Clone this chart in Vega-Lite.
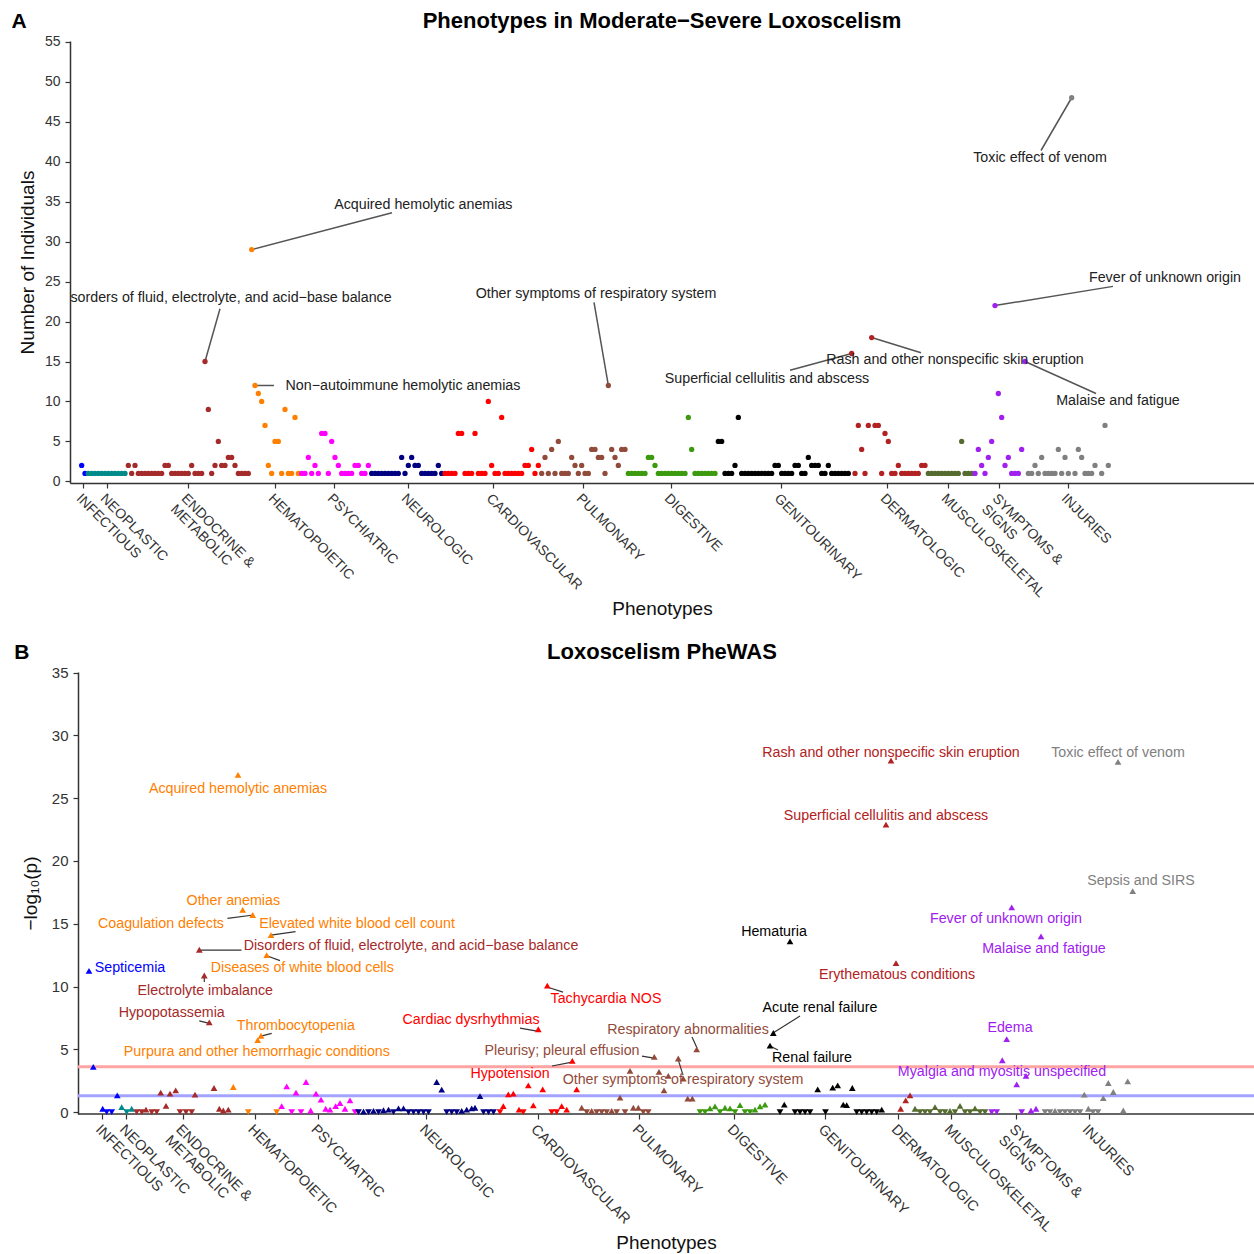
{
"$schema": "https://vega.github.io/schema/vega-lite/v6.json",
"padding": {"left": 11, "top": 9, "right": 0, "bottom": 0},
"config": {
 "font": "Liberation Sans",
 "view": {"stroke": null},
 "axis": {"grid": false, "domainColor": "#333", "domainWidth": 1.5, "tickColor": "#333", "tickWidth": 1.2, "tickSize": 5, "labelColor": "#333", "labelFont": "Liberation Sans", "titleFont": "Liberation Sans", "titleFontWeight": "normal", "titleColor": "#111", "titleFontSize": 19, "labelOverlap": false, "labelFlush": false}
},
"datasets": {
 "a": [
{"i":3,"n":2,"c":"INF"},{"i":4,"n":1,"c":"INF"},
{"i":5,"n":1,"c":"NEO"},{"i":6,"n":1,"c":"NEO"},{"i":7,"n":1,"c":"NEO"},{"i":8,"n":1,"c":"NEO"},{"i":9,"n":1,"c":"NEO"},{"i":10,"n":1,"c":"NEO"},{"i":11,"n":1,"c":"NEO"},{"i":12,"n":1,"c":"NEO"},{"i":13,"n":1,"c":"NEO"},{"i":14,"n":1,"c":"NEO"},{"i":15,"n":1,"c":"NEO"},{"i":16,"n":1,"c":"NEO"},
{"i":17,"n":2,"c":"END"},{"i":18,"n":1,"c":"END"},{"i":19,"n":2,"c":"END"},{"i":20,"n":1,"c":"END"},{"i":21,"n":1,"c":"END"},{"i":22,"n":1,"c":"END"},{"i":23,"n":1,"c":"END"},{"i":24,"n":1,"c":"END"},{"i":25,"n":1,"c":"END"},{"i":26,"n":1,"c":"END"},{"i":27,"n":1,"c":"END"},{"i":28,"n":2,"c":"END"},{"i":29,"n":2,"c":"END"},{"i":30,"n":1,"c":"END"},{"i":31,"n":1,"c":"END"},{"i":32,"n":1,"c":"END"},{"i":33,"n":1,"c":"END"},{"i":34,"n":1,"c":"END"},{"i":35,"n":1,"c":"END"},{"i":36,"n":2,"c":"END"},{"i":37,"n":1,"c":"END"},{"i":38,"n":1,"c":"END"},{"i":39,"n":1,"c":"END"},{"i":40,"n":15,"c":"END"},{"i":41,"n":9,"c":"END"},{"i":42,"n":1,"c":"END"},{"i":43,"n":2,"c":"END"},{"i":44,"n":5,"c":"END"},{"i":45,"n":2,"c":"END"},{"i":46,"n":2,"c":"END"},{"i":47,"n":3,"c":"END"},{"i":48,"n":3,"c":"END"},{"i":49,"n":2,"c":"END"},{"i":50,"n":1,"c":"END"},{"i":51,"n":1,"c":"END"},{"i":52,"n":1,"c":"END"},{"i":53,"n":1,"c":"END"},
{"i":54,"n":29,"c":"HEM"},{"i":55,"n":12,"c":"HEM"},{"i":56,"n":11,"c":"HEM"},{"i":57,"n":10,"c":"HEM"},{"i":58,"n":7,"c":"HEM"},{"i":59,"n":2,"c":"HEM"},{"i":60,"n":1,"c":"HEM"},{"i":61,"n":5,"c":"HEM"},{"i":62,"n":5,"c":"HEM"},{"i":63,"n":1,"c":"HEM"},{"i":64,"n":9,"c":"HEM"},{"i":65,"n":1,"c":"HEM"},{"i":66,"n":1,"c":"HEM"},{"i":67,"n":8,"c":"HEM"},{"i":68,"n":1,"c":"HEM"},
{"i":69,"n":1,"c":"PSY"},{"i":70,"n":1,"c":"PSY"},{"i":71,"n":3,"c":"PSY"},{"i":72,"n":1,"c":"PSY"},{"i":73,"n":2,"c":"PSY"},{"i":74,"n":1,"c":"PSY"},{"i":75,"n":6,"c":"PSY"},{"i":76,"n":6,"c":"PSY"},{"i":77,"n":1,"c":"PSY"},{"i":78,"n":5,"c":"PSY"},{"i":79,"n":3,"c":"PSY"},{"i":80,"n":2,"c":"PSY"},{"i":81,"n":1,"c":"PSY"},{"i":82,"n":1,"c":"PSY"},{"i":83,"n":1,"c":"PSY"},{"i":84,"n":1,"c":"PSY"},{"i":85,"n":2,"c":"PSY"},{"i":86,"n":2,"c":"PSY"},{"i":87,"n":1,"c":"PSY"},{"i":88,"n":1,"c":"PSY"},{"i":89,"n":2,"c":"PSY"},
{"i":90,"n":1,"c":"NEU"},{"i":91,"n":1,"c":"NEU"},{"i":92,"n":1,"c":"NEU"},{"i":93,"n":1,"c":"NEU"},{"i":94,"n":1,"c":"NEU"},{"i":95,"n":1,"c":"NEU"},{"i":96,"n":1,"c":"NEU"},{"i":97,"n":1,"c":"NEU"},{"i":98,"n":1,"c":"NEU"},{"i":99,"n":3,"c":"NEU"},{"i":100,"n":1,"c":"NEU"},{"i":101,"n":2,"c":"NEU"},{"i":102,"n":3,"c":"NEU"},{"i":103,"n":2,"c":"NEU"},{"i":104,"n":2,"c":"NEU"},{"i":105,"n":1,"c":"NEU"},{"i":106,"n":1,"c":"NEU"},{"i":107,"n":1,"c":"NEU"},{"i":108,"n":1,"c":"NEU"},{"i":109,"n":1,"c":"NEU"},{"i":110,"n":2,"c":"NEU"},{"i":111,"n":1,"c":"NEU"},
{"i":112,"n":1,"c":"CAR"},{"i":113,"n":1,"c":"CAR"},{"i":114,"n":1,"c":"CAR"},{"i":115,"n":1,"c":"CAR"},{"i":116,"n":6,"c":"CAR"},{"i":117,"n":6,"c":"CAR"},{"i":118,"n":1,"c":"CAR"},{"i":119,"n":1,"c":"CAR"},{"i":120,"n":1,"c":"CAR"},{"i":121,"n":6,"c":"CAR"},{"i":122,"n":1,"c":"CAR"},{"i":123,"n":1,"c":"CAR"},{"i":124,"n":1,"c":"CAR"},{"i":125,"n":10,"c":"CAR"},{"i":126,"n":2,"c":"CAR"},{"i":127,"n":1,"c":"CAR"},{"i":128,"n":1,"c":"CAR"},{"i":129,"n":8,"c":"CAR"},{"i":130,"n":1,"c":"CAR"},{"i":131,"n":1,"c":"CAR"},{"i":132,"n":1,"c":"CAR"},{"i":133,"n":1,"c":"CAR"},{"i":134,"n":1,"c":"CAR"},{"i":135,"n":1,"c":"CAR"},{"i":136,"n":2,"c":"CAR"},{"i":137,"n":2,"c":"CAR"},{"i":138,"n":4,"c":"CAR"},{"i":139,"n":1,"c":"CAR"},{"i":140,"n":2,"c":"CAR"},
{"i":141,"n":1,"c":"PUL"},{"i":142,"n":3,"c":"PUL"},{"i":143,"n":1,"c":"PUL"},{"i":144,"n":4,"c":"PUL"},{"i":145,"n":1,"c":"PUL"},{"i":146,"n":5,"c":"PUL"},{"i":147,"n":1,"c":"PUL"},{"i":148,"n":1,"c":"PUL"},{"i":149,"n":1,"c":"PUL"},{"i":150,"n":3,"c":"PUL"},{"i":151,"n":2,"c":"PUL"},{"i":152,"n":1,"c":"PUL"},{"i":153,"n":2,"c":"PUL"},{"i":154,"n":1,"c":"PUL"},{"i":155,"n":1,"c":"PUL"},{"i":156,"n":4,"c":"PUL"},{"i":157,"n":4,"c":"PUL"},{"i":158,"n":3,"c":"PUL"},{"i":159,"n":3,"c":"PUL"},{"i":160,"n":1,"c":"PUL"},{"i":161,"n":12,"c":"PUL"},{"i":162,"n":4,"c":"PUL"},{"i":163,"n":3,"c":"PUL"},{"i":164,"n":2,"c":"PUL"},{"i":165,"n":4,"c":"PUL"},{"i":166,"n":4,"c":"PUL"},
{"i":167,"n":1,"c":"DIG"},{"i":168,"n":1,"c":"DIG"},{"i":169,"n":1,"c":"DIG"},{"i":170,"n":1,"c":"DIG"},{"i":171,"n":1,"c":"DIG"},{"i":172,"n":1,"c":"DIG"},{"i":173,"n":3,"c":"DIG"},{"i":174,"n":3,"c":"DIG"},{"i":175,"n":2,"c":"DIG"},{"i":176,"n":1,"c":"DIG"},{"i":177,"n":1,"c":"DIG"},{"i":178,"n":1,"c":"DIG"},{"i":179,"n":1,"c":"DIG"},{"i":180,"n":1,"c":"DIG"},{"i":181,"n":1,"c":"DIG"},{"i":182,"n":1,"c":"DIG"},{"i":183,"n":1,"c":"DIG"},{"i":184,"n":1,"c":"DIG"},{"i":185,"n":8,"c":"DIG"},{"i":186,"n":4,"c":"DIG"},{"i":187,"n":1,"c":"DIG"},{"i":188,"n":1,"c":"DIG"},{"i":189,"n":1,"c":"DIG"},{"i":190,"n":1,"c":"DIG"},{"i":191,"n":1,"c":"DIG"},{"i":192,"n":1,"c":"DIG"},{"i":193,"n":1,"c":"DIG"},
{"i":194,"n":5,"c":"GEN"},{"i":195,"n":5,"c":"GEN"},{"i":196,"n":1,"c":"GEN"},{"i":197,"n":1,"c":"GEN"},{"i":198,"n":1,"c":"GEN"},{"i":199,"n":2,"c":"GEN"},{"i":200,"n":8,"c":"GEN"},{"i":201,"n":1,"c":"GEN"},{"i":202,"n":1,"c":"GEN"},{"i":203,"n":1,"c":"GEN"},{"i":204,"n":1,"c":"GEN"},{"i":205,"n":1,"c":"GEN"},{"i":206,"n":1,"c":"GEN"},{"i":207,"n":1,"c":"GEN"},{"i":208,"n":1,"c":"GEN"},{"i":209,"n":1,"c":"GEN"},{"i":210,"n":1,"c":"GEN"},{"i":211,"n":2,"c":"GEN"},{"i":212,"n":2,"c":"GEN"},{"i":213,"n":1,"c":"GEN"},{"i":214,"n":1,"c":"GEN"},{"i":215,"n":1,"c":"GEN"},{"i":216,"n":1,"c":"GEN"},{"i":217,"n":2,"c":"GEN"},{"i":218,"n":2,"c":"GEN"},{"i":219,"n":1,"c":"GEN"},{"i":220,"n":1,"c":"GEN"},{"i":221,"n":3,"c":"GEN"},{"i":222,"n":2,"c":"GEN"},{"i":223,"n":2,"c":"GEN"},{"i":224,"n":2,"c":"GEN"},{"i":225,"n":1,"c":"GEN"},{"i":226,"n":1,"c":"GEN"},{"i":227,"n":2,"c":"GEN"},{"i":228,"n":1,"c":"GEN"},{"i":229,"n":1,"c":"GEN"},{"i":230,"n":1,"c":"GEN"},{"i":231,"n":1,"c":"GEN"},{"i":232,"n":1,"c":"GEN"},{"i":233,"n":1,"c":"GEN"},
{"i":234,"n":16,"c":"DER"},{"i":235,"n":1,"c":"DER"},{"i":236,"n":7,"c":"DER"},{"i":237,"n":4,"c":"DER"},{"i":238,"n":1,"c":"DER"},{"i":239,"n":7,"c":"DER"},{"i":240,"n":18,"c":"DER"},{"i":241,"n":7,"c":"DER"},{"i":242,"n":7,"c":"DER"},{"i":243,"n":1,"c":"DER"},{"i":244,"n":6,"c":"DER"},{"i":245,"n":5,"c":"DER"},{"i":246,"n":1,"c":"DER"},{"i":247,"n":1,"c":"DER"},{"i":248,"n":2,"c":"DER"},{"i":249,"n":1,"c":"DER"},{"i":250,"n":1,"c":"DER"},{"i":251,"n":1,"c":"DER"},{"i":252,"n":1,"c":"DER"},{"i":253,"n":1,"c":"DER"},{"i":254,"n":1,"c":"DER"},{"i":255,"n":2,"c":"DER"},{"i":256,"n":2,"c":"DER"},
{"i":257,"n":1,"c":"MUS"},{"i":258,"n":1,"c":"MUS"},{"i":259,"n":1,"c":"MUS"},{"i":260,"n":1,"c":"MUS"},{"i":261,"n":1,"c":"MUS"},{"i":262,"n":1,"c":"MUS"},{"i":263,"n":1,"c":"MUS"},{"i":264,"n":1,"c":"MUS"},{"i":265,"n":1,"c":"MUS"},{"i":266,"n":1,"c":"MUS"},{"i":267,"n":5,"c":"MUS"},{"i":268,"n":1,"c":"MUS"},{"i":269,"n":1,"c":"MUS"},{"i":270,"n":1,"c":"MUS"},
{"i":271,"n":1,"c":"SYM"},{"i":272,"n":4,"c":"SYM"},{"i":273,"n":2,"c":"SYM"},{"i":274,"n":1,"c":"SYM"},{"i":275,"n":3,"c":"SYM"},{"i":276,"n":5,"c":"SYM"},{"i":277,"n":22,"c":"SYM"},{"i":278,"n":11,"c":"SYM"},{"i":279,"n":8,"c":"SYM"},{"i":280,"n":2,"c":"SYM"},{"i":281,"n":3,"c":"SYM"},{"i":282,"n":1,"c":"SYM"},{"i":283,"n":1,"c":"SYM"},{"i":284,"n":1,"c":"SYM"},{"i":285,"n":4,"c":"SYM"},{"i":286,"n":15,"c":"SYM"},
{"i":287,"n":1,"c":"INJ"},{"i":288,"n":1,"c":"INJ"},{"i":289,"n":2,"c":"INJ"},{"i":290,"n":1,"c":"INJ"},{"i":291,"n":3,"c":"INJ"},{"i":292,"n":1,"c":"INJ"},{"i":293,"n":1,"c":"INJ"},{"i":294,"n":1,"c":"INJ"},{"i":295,"n":1,"c":"INJ"},{"i":296,"n":4,"c":"INJ"},{"i":297,"n":1,"c":"INJ"},{"i":298,"n":3,"c":"INJ"},{"i":299,"n":1,"c":"INJ"},{"i":300,"n":48,"c":"INJ"},{"i":301,"n":1,"c":"INJ"},{"i":302,"n":4,"c":"INJ"},{"i":303,"n":3,"c":"INJ"},{"i":304,"n":1,"c":"INJ"},{"i":305,"n":1,"c":"INJ"},{"i":306,"n":1,"c":"INJ"},{"i":307,"n":2,"c":"INJ"},{"i":309,"n":1,"c":"INJ"},{"i":310,"n":7,"c":"INJ"},{"i":311,"n":2,"c":"INJ"}
 ],
 "alab": [
{"t":"Toxic effect of venom","x":290.5,"y":40.5},
{"t":"Acquired hemolytic anemias","x":105.5,"y":34.6},
{"t":"Disorders of fluid, electrolyte, and acid−base balance","x":45.8,"y":22.9},
{"t":"Non−autoimmune hemolytic anemias","x":99.4,"y":11.9},
{"t":"Other symptoms of respiratory system","x":157.3,"y":23.4},
{"t":"Superficial cellulitis and abscess","x":208.6,"y":12.75},
{"t":"Rash and other nonspecific skin eruption","x":265,"y":15.25},
{"t":"Fever of unknown origin","x":328,"y":25.4},
{"t":"Malaise and fatigue","x":313.9,"y":10.1}
 ],
 "aseg": [
{"x1":300,"y1":48,"x2":290.8,"y2":41.4},
{"x1":54,"y1":29,"x2":96.1,"y2":33.6},
{"x1":40,"y1":15,"x2":44.5,"y2":21.6},
{"x1":55,"y1":12,"x2":60.7,"y2":12},
{"x1":161,"y1":12,"x2":156.7,"y2":22.4},
{"x1":215.5,"y1":13.9,"x2":234,"y2":16},
{"x1":240,"y1":18,"x2":254.8,"y2":16.1},
{"x1":277,"y1":22,"x2":312.4,"y2":24.4},
{"x1":286,"y1":15,"x2":307.3,"y2":11}
 ],
 "b": [
{"x":2.2,"v":11.25,"c":"INF","d":"u"},{"x":3.06,"v":3.6,"c":"INF","d":"u"},{"x":4.94,"v":0.27,"c":"INF","d":"u"},{"x":5.74,"v":0,"c":"INF","d":"d"},{"x":6.74,"v":0,"c":"INF","d":"d"},{"x":7.86,"v":1.33,"c":"INF","d":"u"},
{"x":8.74,"v":0.4,"c":"NEO","d":"u"},{"x":9.74,"v":0,"c":"NEO","d":"d"},{"x":10.74,"v":0.27,"c":"NEO","d":"u"},
{"x":11.74,"v":0,"c":"END","d":"d"},{"x":12.74,"v":0,"c":"END","d":"d"},{"x":13.6,"v":0.2,"c":"END","d":"u"},{"x":14.74,"v":0,"c":"END","d":"d"},{"x":15.74,"v":0,"c":"END","d":"d"},{"x":16.54,"v":1.55,"c":"END","d":"u"},{"x":17.6,"v":0.5,"c":"END","d":"u"},{"x":18.4,"v":1.47,"c":"END","d":"u"},{"x":19.54,"v":1.73,"c":"END","d":"u"},{"x":20.4,"v":0,"c":"END","d":"d"},{"x":21.6,"v":0,"c":"END","d":"d"},{"x":22.74,"v":0,"c":"END","d":"d"},{"x":23.4,"v":1.39,"c":"END","d":"u"},{"x":24.26,"v":12.93,"c":"END","d":"u"},{"x":25.26,"v":10.88,"c":"END","d":"u"},{"x":26.26,"v":7.15,"c":"END","d":"u"},{"x":27.2,"v":1.92,"c":"END","d":"u"},{"x":28.26,"v":0.27,"c":"END","d":"u"},{"x":29.06,"v":0.13,"c":"END","d":"u"},{"x":30.06,"v":0.2,"c":"END","d":"u"},
{"x":31.06,"v":2.0,"c":"HEM","d":"u"},{"x":32,"v":26.86,"c":"HEM","d":"u"},{"x":32.94,"v":16.1,"c":"HEM","d":"u"},{"x":34.06,"v":0,"c":"HEM","d":"d"},{"x":34.94,"v":15.7,"c":"HEM","d":"u"},{"x":35.94,"v":5.73,"c":"HEM","d":"u"},{"x":36.6,"v":6.08,"c":"HEM","d":"u"},{"x":37.74,"v":12.5,"c":"HEM","d":"u"},{"x":38.6,"v":14.1,"c":"HEM","d":"u"},{"x":39.74,"v":0,"c":"HEM","d":"d"},
{"x":40.74,"v":0.48,"c":"PSY","d":"u"},{"x":41.74,"v":2.05,"c":"PSY","d":"u"},{"x":42.74,"v":0,"c":"PSY","d":"d"},{"x":43.6,"v":1.55,"c":"PSY","d":"u"},{"x":44.6,"v":0,"c":"PSY","d":"d"},{"x":45.6,"v":2.4,"c":"PSY","d":"u"},{"x":46.54,"v":0.13,"c":"PSY","d":"u"},{"x":47.6,"v":1.47,"c":"PSY","d":"u"},{"x":48.6,"v":1.0,"c":"PSY","d":"u"},{"x":49.54,"v":0.27,"c":"PSY","d":"u"},{"x":50.4,"v":0.2,"c":"PSY","d":"u"},{"x":51.54,"v":0.48,"c":"PSY","d":"u"},{"x":52.4,"v":0.72,"c":"PSY","d":"u"},{"x":53.4,"v":0.27,"c":"PSY","d":"u"},{"x":54.4,"v":0.93,"c":"PSY","d":"u"},{"x":55.4,"v":0,"c":"PSY","d":"d"},
{"x":56.1,"v":0,"c":"NEU","d":"d"},{"x":57.1,"v":0.05,"c":"NEU","d":"u"},{"x":58.1,"v":0,"c":"NEU","d":"d"},{"x":59.1,"v":0.1,"c":"NEU","d":"u"},{"x":60.1,"v":0,"c":"NEU","d":"d"},{"x":61.1,"v":0.15,"c":"NEU","d":"u"},{"x":62.1,"v":0.2,"c":"NEU","d":"u"},{"x":63.1,"v":0,"c":"NEU","d":"d"},{"x":64.1,"v":0.3,"c":"NEU","d":"u"},{"x":65.1,"v":0.3,"c":"NEU","d":"u"},{"x":66.1,"v":0,"c":"NEU","d":"d"},{"x":67.1,"v":0,"c":"NEU","d":"d"},{"x":68.1,"v":0,"c":"NEU","d":"d"},{"x":69.1,"v":0,"c":"NEU","d":"d"},{"x":70.1,"v":0,"c":"NEU","d":"d"},{"x":71.74,"v":2.4,"c":"NEU","d":"u"},{"x":72.74,"v":1.79,"c":"NEU","d":"u"},{"x":73.74,"v":0,"c":"NEU","d":"d"},{"x":74.74,"v":0,"c":"NEU","d":"d"},{"x":75.74,"v":0,"c":"NEU","d":"d"},{"x":76.74,"v":0.1,"c":"NEU","d":"u"},{"x":77.74,"v":0.2,"c":"NEU","d":"u"},{"x":78.74,"v":0.3,"c":"NEU","d":"u"},{"x":79.4,"v":0.35,"c":"NEU","d":"u"},{"x":80.4,"v":1.28,"c":"NEU","d":"u"},{"x":81.1,"v":0,"c":"NEU","d":"d"},{"x":82.1,"v":0,"c":"NEU","d":"d"},{"x":83.1,"v":0,"c":"NEU","d":"d"},
{"x":84.4,"v":0,"c":"CAR","d":"d"},{"x":85.06,"v":0.48,"c":"CAR","d":"u"},{"x":86.06,"v":1.41,"c":"CAR","d":"u"},{"x":87.06,"v":1.47,"c":"CAR","d":"u"},{"x":88.2,"v":0.2,"c":"CAR","d":"u"},{"x":89.06,"v":0,"c":"CAR","d":"d"},{"x":90.06,"v":2.13,"c":"CAR","d":"u"},{"x":91.06,"v":0.53,"c":"CAR","d":"u"},{"x":92.06,"v":6.6,"c":"CAR","d":"u"},{"x":92.94,"v":1.81,"c":"CAR","d":"u"},{"x":93.86,"v":10.08,"c":"CAR","d":"u"},{"x":94.74,"v":0,"c":"CAR","d":"d"},{"x":95.74,"v":0,"c":"CAR","d":"d"},{"x":96.74,"v":0.48,"c":"CAR","d":"u"},{"x":97.74,"v":0.2,"c":"CAR","d":"u"},{"x":98.86,"v":4.08,"c":"CAR","d":"u"},{"x":99.74,"v":1.81,"c":"CAR","d":"u"},
{"x":100.74,"v":0.35,"c":"PUL","d":"u"},{"x":101.74,"v":0,"c":"PUL","d":"d"},{"x":102.74,"v":0.1,"c":"PUL","d":"u"},{"x":103.74,"v":0,"c":"PUL","d":"d"},{"x":104.74,"v":0,"c":"PUL","d":"d"},{"x":105.74,"v":0,"c":"PUL","d":"d"},{"x":106.74,"v":0.1,"c":"PUL","d":"u"},{"x":107.74,"v":0,"c":"PUL","d":"d"},{"x":108.4,"v":1.15,"c":"PUL","d":"u"},{"x":109.4,"v":0,"c":"PUL","d":"d"},{"x":110.4,"v":3.28,"c":"PUL","d":"u"},{"x":111.06,"v":0.35,"c":"PUL","d":"u"},{"x":112.06,"v":0.35,"c":"PUL","d":"u"},{"x":113.06,"v":0,"c":"PUL","d":"d"},{"x":114.06,"v":0,"c":"PUL","d":"d"},{"x":115.26,"v":4.4,"c":"PUL","d":"u"},{"x":116.2,"v":3.2,"c":"PUL","d":"u"},{"x":117.2,"v":1.73,"c":"PUL","d":"u"},{"x":118.06,"v":2.88,"c":"PUL","d":"u"},{"x":120.06,"v":4.27,"c":"PUL","d":"u"},{"x":121.06,"v":2.67,"c":"PUL","d":"u"},{"x":121.94,"v":1.07,"c":"PUL","d":"u"},{"x":122.86,"v":1.07,"c":"PUL","d":"u"},{"x":123.74,"v":5.0,"c":"PUL","d":"u"},
{"x":124.4,"v":0,"c":"DIG","d":"d"},{"x":125.4,"v":0,"c":"DIG","d":"d"},{"x":126.4,"v":0.3,"c":"DIG","d":"u"},{"x":127.4,"v":0.45,"c":"DIG","d":"u"},{"x":128.4,"v":0,"c":"DIG","d":"d"},{"x":129.4,"v":0.35,"c":"DIG","d":"u"},{"x":130.4,"v":0.3,"c":"DIG","d":"u"},{"x":131.4,"v":0,"c":"DIG","d":"d"},{"x":132.4,"v":0.55,"c":"DIG","d":"u"},{"x":133.4,"v":0,"c":"DIG","d":"d"},{"x":134.4,"v":0,"c":"DIG","d":"d"},{"x":135.4,"v":0.2,"c":"DIG","d":"u"},{"x":136.4,"v":0.45,"c":"DIG","d":"u"},{"x":137.4,"v":0.6,"c":"DIG","d":"u"},
{"x":138.4,"v":5.3,"c":"GEN","d":"u"},{"x":139.06,"v":6.3,"c":"GEN","d":"u"},{"x":140.4,"v":0,"c":"GEN","d":"d"},{"x":141.26,"v":0.6,"c":"GEN","d":"u"},{"x":142.4,"v":13.6,"c":"GEN","d":"u"},{"x":143.4,"v":0,"c":"GEN","d":"d"},{"x":144.4,"v":0,"c":"GEN","d":"d"},{"x":145.4,"v":0,"c":"GEN","d":"d"},{"x":146.4,"v":0,"c":"GEN","d":"d"},{"x":147.94,"v":1.81,"c":"GEN","d":"u"},{"x":149.5,"v":0,"c":"GEN","d":"d"},{"x":150.94,"v":1.95,"c":"GEN","d":"u"},{"x":151.94,"v":2.13,"c":"GEN","d":"u"},{"x":153.06,"v":0.6,"c":"GEN","d":"u"},{"x":153.74,"v":0.55,"c":"GEN","d":"u"},{"x":154.86,"v":1.92,"c":"GEN","d":"u"},{"x":155.74,"v":0,"c":"GEN","d":"d"},{"x":156.74,"v":0,"c":"GEN","d":"d"},{"x":157.74,"v":0,"c":"GEN","d":"d"},{"x":158.74,"v":0,"c":"GEN","d":"d"},{"x":159.74,"v":0,"c":"GEN","d":"d"},{"x":160.74,"v":0.2,"c":"GEN","d":"u"},
{"x":161.6,"v":22.9,"c":"DER","d":"u"},{"x":162.6,"v":28.0,"c":"DER","d":"u"},{"x":163.6,"v":11.87,"c":"DER","d":"u"},{"x":164.54,"v":0.27,"c":"DER","d":"u"},{"x":165.54,"v":0.93,"c":"DER","d":"u"},{"x":166.4,"v":1.33,"c":"DER","d":"u"},
{"x":167.4,"v":0.27,"c":"MUS","d":"u"},{"x":168.4,"v":0,"c":"MUS","d":"d"},{"x":169.4,"v":0,"c":"MUS","d":"d"},{"x":170.4,"v":0,"c":"MUS","d":"d"},{"x":171.4,"v":0.4,"c":"MUS","d":"u"},{"x":172.4,"v":0,"c":"MUS","d":"d"},{"x":173.4,"v":0,"c":"MUS","d":"d"},{"x":174.4,"v":0.1,"c":"MUS","d":"u"},{"x":175.4,"v":0,"c":"MUS","d":"d"},{"x":176.4,"v":0.5,"c":"MUS","d":"u"},{"x":177.4,"v":0,"c":"MUS","d":"d"},{"x":178.4,"v":0,"c":"MUS","d":"d"},{"x":179.4,"v":0.3,"c":"MUS","d":"u"},{"x":180.4,"v":0,"c":"MUS","d":"d"},{"x":181.4,"v":0,"c":"MUS","d":"d"},
{"x":182.74,"v":0,"c":"SYM","d":"d"},{"x":183.74,"v":0,"c":"SYM","d":"d"},{"x":184.86,"v":4.13,"c":"SYM","d":"u"},{"x":185.74,"v":5.81,"c":"SYM","d":"u"},{"x":186.74,"v":16.3,"c":"SYM","d":"u"},{"x":187.74,"v":2.21,"c":"SYM","d":"u"},{"x":188.74,"v":0,"c":"SYM","d":"d"},{"x":189.6,"v":2.88,"c":"SYM","d":"u"},{"x":190.6,"v":0.13,"c":"SYM","d":"u"},{"x":191.6,"v":0.27,"c":"SYM","d":"u"},{"x":192.6,"v":14.0,"c":"SYM","d":"u"},
{"x":193.4,"v":0,"c":"INJ","d":"d"},{"x":194.4,"v":0,"c":"INJ","d":"d"},{"x":195.4,"v":0.1,"c":"INJ","d":"u"},{"x":196.4,"v":0,"c":"INJ","d":"d"},{"x":197.4,"v":0,"c":"INJ","d":"d"},{"x":198.4,"v":0,"c":"INJ","d":"d"},{"x":199.4,"v":0,"c":"INJ","d":"d"},{"x":200.4,"v":0,"c":"INJ","d":"d"},{"x":201.26,"v":1.39,"c":"INJ","d":"u"},{"x":202.06,"v":0.27,"c":"INJ","d":"u"},{"x":203,"v":0,"c":"INJ","d":"d"},{"x":204,"v":0,"c":"INJ","d":"d"},{"x":205.06,"v":1.12,"c":"INJ","d":"u"},{"x":206.06,"v":2.32,"c":"INJ","d":"u"},{"x":207.06,"v":1.6,"c":"INJ","d":"u"},{"x":208,"v":27.9,"c":"INJ","d":"u"},{"x":209.06,"v":0.13,"c":"INJ","d":"u"},{"x":209.94,"v":2.45,"c":"INJ","d":"u"},{"x":210.94,"v":17.6,"c":"INJ","d":"u"}
 ],
 "blab": [
{"t":"Acquired hemolytic anemias","x":32,"v":25.7,"c":"HEM"},
{"t":"Other anemias","x":31.06,"v":16.8,"c":"HEM"},
{"t":"Coagulation defects","x":16.6,"v":15.0,"c":"HEM"},
{"t":"Elevated white blood cell count","x":55.8,"v":15.0,"c":"HEM"},
{"t":"Disorders of fluid, electrolyte, and acid−base balance","x":66.6,"v":13.2,"c":"END"},
{"t":"Diseases of white blood cells","x":44.86,"v":11.45,"c":"HEM"},
{"t":"Septicemia","x":10.4,"v":11.5,"c":"INF"},
{"t":"Electrolyte imbalance","x":25.46,"v":9.67,"c":"END"},
{"t":"Hypopotassemia","x":18.74,"v":7.9,"c":"END"},
{"t":"Thrombocytopenia","x":43.56,"v":6.85,"c":"HEM"},
{"t":"Purpura and other hemorrhagic conditions","x":35.76,"v":4.76,"c":"HEM"},
{"t":"Cardiac dysrhythmias","x":78.6,"v":7.33,"c":"CAR"},
{"t":"Tachycardia NOS","x":105.6,"v":9.0,"c":"CAR"},
{"t":"Hypotension","x":86.4,"v":3.03,"c":"CAR"},
{"t":"Pleurisy; pleural effusion","x":96.8,"v":4.86,"c":"PUL"},
{"t":"Respiratory abnormalities","x":122,"v":6.53,"c":"PUL"},
{"t":"Other symptoms of respiratory system","x":121,"v":2.55,"c":"PUL"},
{"t":"Hematuria","x":139.2,"v":14.34,"c":"GEN"},
{"t":"Acute renal failure","x":148.4,"v":8.29,"c":"GEN"},
{"t":"Renal failure","x":146.8,"v":4.3,"c":"GEN"},
{"t":"Rash and other nonspecific skin eruption","x":162.6,"v":28.6,"c":"DER"},
{"t":"Superficial cellulitis and abscess","x":161.6,"v":23.6,"c":"DER"},
{"t":"Erythematous conditions","x":163.8,"v":10.9,"c":"DER"},
{"t":"Toxic effect of venom","x":208,"v":28.6,"c":"INJ"},
{"t":"Sepsis and SIRS","x":212.6,"v":18.4,"c":"INJ"},
{"t":"Fever of unknown origin","x":185.6,"v":15.38,"c":"SYM"},
{"t":"Malaise and fatigue","x":193.2,"v":13.0,"c":"SYM"},
{"t":"Edema","x":186.4,"v":6.7,"c":"SYM"},
{"t":"Myalgia and myositis unspecified","x":184.8,"v":3.19,"c":"SYM"}
 ],
 "bseg": [
{"x1":29.9,"v1":15.43,"x2":35.1,"v2":15.7},
{"x1":38.6,"v1":14.1,"x2":43.5,"v2":14.37},
{"x1":24.26,"v1":12.9,"x2":32.7,"v2":12.9},
{"x1":37.74,"v1":12.45,"x2":40.4,"v2":12.06},
{"x1":25.26,"v1":10.9,"x2":25.26,"v2":10.36},
{"x1":24.26,"v1":7.27,"x2":26.26,"v2":7.07},
{"x1":36.6,"v1":6.05,"x2":38.74,"v2":6.27},
{"x1":88.4,"v1":6.69,"x2":91.8,"v2":6.45},
{"x1":93.8,"v1":9.96,"x2":97,"v2":9.56},
{"x1":94.8,"v1":3.67,"x2":98.8,"v2":3.98},
{"x1":112.8,"v1":4.46,"x2":115.2,"v2":4.3},
{"x1":122.8,"v1":5.98,"x2":123.8,"v2":5.1},
{"x1":120,"v1":4.22,"x2":121,"v2":2.95},
{"x1":144.4,"v1":7.65,"x2":139,"v2":6.3},
{"x1":138.4,"v1":5.26,"x2":140,"v2":4.94}
 ],
 "thr1": [{"t":3.62,"x0":0,"x1":235.2}],
 "thr2": [{"t":1.3,"x0":0,"x1":235.2}],
 "base": [{"t":-0.15,"x0":0,"x1":235.2}]
},
"spacing": 21,
"resolve": {"scale": {"x": "independent", "y": "independent"}},
"vconcat": [
 {
  "title": {"text": "A", "anchor": "start", "frame": "bounds", "fontSize": 21, "fontWeight": "bold", "offset": -22, "dx": -7, "color": "#000"},
  "vconcat": [
   {
    "title": {"text": "Phenotypes in Moderate−Severe Loxoscelism", "fontSize": 22, "fontWeight": "bold", "anchor": "middle", "offset": 2, "color": "#000"},
    "width": 1184, "height": 442,
    "layer": [
     {"data": {"name": "aseg"}, "mark": {"type": "rule", "color": "#555", "strokeWidth": 1.5},
      "encoding": {"x": {"field": "x1", "type": "quantitative"}, "y": {"field": "y1", "type": "quantitative"}, "x2": {"field": "x2"}, "y2": {"field": "y2"}}},
     {"data": {"name": "a"}, "mark": {"type": "circle", "size": 28, "opacity": 1},
      "encoding": {
       "x": {"field": "i", "type": "quantitative", "scale": {"domain": [-0.5, 354.7], "nice": false, "zero": false},
        "axis": {"title": "Phenotypes", "values": [3.4,10.6,34.9,61,78.7,100.9,126.4,153.4,179.8,212.8,244.6,262.9,278.2,298.9], "labelAngle": 45, "labelAlign": "left", "labelBaseline": "top", "labelFontSize": 14, "labelPadding": 3, "labelLineHeight": 15, "titlePadding": 0,
         "labelExpr": "datum.value < 5 ? 'INFECTIOUS' : datum.value < 20 ? 'NEOPLASTIC' : datum.value < 50 ? ['ENDOCRINE &','METABOLIC'] : datum.value < 70 ? 'HEMATOPOIETIC' : datum.value < 90 ? 'PSYCHIATRIC' : datum.value < 110 ? 'NEUROLOGIC' : datum.value < 140 ? 'CARDIOVASCULAR' : datum.value < 165 ? 'PULMONARY' : datum.value < 195 ? 'DIGESTIVE' : datum.value < 230 ? 'GENITOURINARY' : datum.value < 255 ? 'DERMATOLOGIC' : datum.value < 270 ? 'MUSCULOSKELETAL' : datum.value < 290 ? ['SYMPTOMS &','SIGNS'] : 'INJURIES'"}},
       "y": {"field": "n", "type": "quantitative", "scale": {"domain": [-0.2, 55.1], "nice": false, "zero": false},
        "axis": {"title": "Number of Individuals", "values": [0,5,10,15,20,25,30,35,40,45,50,55], "labelFontSize": 14, "labelPadding": 5, "titlePadding": 7}},
       "color": {"field": "c", "type": "nominal", "legend": null,
        "scale": {"domain": ["INF","NEO","END","HEM","PSY","NEU","CAR","PUL","DIG","GEN","DER","MUS","SYM","INJ"], "range": ["#0000FF","#008B8B","#A52A2A","#FF7F00","#FF00FF","#000080","#FF0000","#924B3A","#3C9A0E","#000000","#B22222","#556B2F","#A020F0","#808080"]}}}},
     {"data": {"name": "alab"}, "mark": {"type": "text", "fontSize": 14.25, "color": "#222", "clip": true, "font": "Liberation Sans"},
      "encoding": {"x": {"field": "x", "type": "quantitative"}, "y": {"field": "y", "type": "quantitative"}, "text": {"field": "t"}}}
    ]
   }
  ]
 },
 {
  "title": {"text": "B", "anchor": "start", "frame": "bounds", "fontSize": 21, "fontWeight": "bold", "offset": -22, "dx": -7, "color": "#000"},
  "vconcat": [
   {
    "title": {"text": "Loxoscelism PheWAS", "fontSize": 22, "fontWeight": "bold", "anchor": "middle", "offset": 2, "color": "#000"},
    "width": 1184, "height": 442,
    "layer": [
     {"data": {"name": "thr1"}, "mark": {"type": "rule", "strokeWidth": 3, "color": "#FFA3A3"},
      "encoding": {"x": {"field": "x0", "type": "quantitative"}, "x2": {"field": "x1"}, "y": {"field": "t", "type": "quantitative"}}},
     {"data": {"name": "thr2"}, "mark": {"type": "rule", "strokeWidth": 3, "color": "#A3A3FF"},
      "encoding": {"x": {"field": "x0", "type": "quantitative"}, "x2": {"field": "x1"}, "y": {"field": "t", "type": "quantitative"}}},
     {"data": {"name": "base"}, "mark": {"type": "rule", "strokeWidth": 1.5, "color": "#333"},
      "encoding": {"x": {"field": "x0", "type": "quantitative"}, "x2": {"field": "x1"}, "y": {"field": "t", "type": "quantitative"}}},
     {"data": {"name": "bseg"}, "mark": {"type": "rule", "color": "#333", "strokeWidth": 1.2},
      "encoding": {"x": {"field": "x1", "type": "quantitative"}, "y": {"field": "v1", "type": "quantitative"}, "x2": {"field": "x2"}, "y2": {"field": "v2"}}},
     {"data": {"name": "b"}, "mark": {"type": "point", "filled": true, "size": 45, "opacity": 1},
      "encoding": {
       "x": {"field": "x", "type": "quantitative", "scale": {"domain": [-1.6, 235.2], "nice": false, "zero": false},
        "axis": {"title": "Phenotypes", "domain": false, "values": [4.86,9.68,20.9,35.3,47.94,69.68,91.9,112.2,131.2,149.4,164,174.6,187.6,202.2], "labelAngle": 45, "labelAlign": "left", "labelBaseline": "top", "labelFontSize": 14.5, "labelPadding": 3, "labelLineHeight": 15, "titlePadding": 0, "titleX": 596,
         "labelExpr": "datum.value < 7 ? 'INFECTIOUS' : datum.value < 15 ? 'NEOPLASTIC' : datum.value < 28 ? ['ENDOCRINE &','METABOLIC'] : datum.value < 40 ? 'HEMATOPOIETIC' : datum.value < 60 ? 'PSYCHIATRIC' : datum.value < 80 ? 'NEUROLOGIC' : datum.value < 100 ? 'CARDIOVASCULAR' : datum.value < 120 ? 'PULMONARY' : datum.value < 140 ? 'DIGESTIVE' : datum.value < 157 ? 'GENITOURINARY' : datum.value < 170 ? 'DERMATOLOGIC' : datum.value < 180 ? 'MUSCULOSKELETAL' : datum.value < 195 ? ['SYMPTOMS &','SIGNS'] : 'INJURIES'"}},
       "y": {"field": "v", "type": "quantitative", "scale": {"domain": [-0.15, 35.05], "nice": false, "zero": false},
        "axis": {"title": "−log₁₀(p)", "values": [0,5,10,15,20,25,30,35], "labelFontSize": 15, "labelPadding": 5, "titlePadding": 11, "offset": -8}},
       "shape": {"field": "d", "type": "nominal", "legend": null, "scale": {"domain": ["u","d"], "range": ["triangle-up","triangle-down"]}},
       "color": {"field": "c", "type": "nominal", "legend": null,
        "scale": {"domain": ["INF","NEO","END","HEM","PSY","NEU","CAR","PUL","DIG","GEN","DER","MUS","SYM","INJ"], "range": ["#0000FF","#008B8B","#A52A2A","#FF7F00","#FF00FF","#000080","#FF0000","#924B3A","#3C9A0E","#000000","#B22222","#556B2F","#A020F0","#808080"]}}}},
     {"data": {"name": "blab"}, "mark": {"type": "text", "fontSize": 14.25, "font": "Liberation Sans"},
      "encoding": {"x": {"field": "x", "type": "quantitative"}, "y": {"field": "v", "type": "quantitative"}, "text": {"field": "t"}, "color": {"field": "c", "type": "nominal", "legend": null}}}
    ]
   }
  ]
 }
]
}
